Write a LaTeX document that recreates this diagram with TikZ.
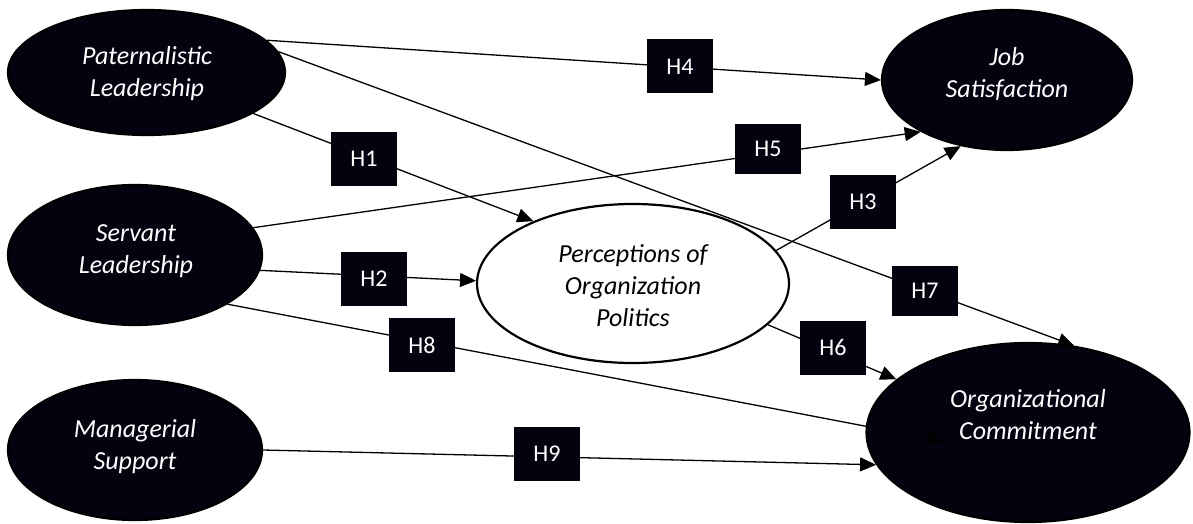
\documentclass[tikz,border=0pt]{standalone}
\usepackage{fontspec}
\setmainfont{Carlito}
\usetikzlibrary{arrows.meta,shapes.geometric}
\definecolor{navy}{RGB}{3,3,16}
\tikzset{
  ellb/.style={ellipse, draw=black, line width=2.2pt, fill=navy, inner sep=0pt},
  ellw/.style={ellipse, draw=black, line width=2.2pt, fill=white, inner sep=0pt},
  wtxt/.style={text=white, font=\fontsize{26}{32}\selectfont\itshape, align=center, inner sep=0pt},
  btxt/.style={text=black, font=\fontsize{26}{32}\selectfont\itshape, align=center, inner sep=0pt},
  hbox/.style={fill=navy, text=white, font=\fontsize{24}{28}\selectfont, minimum width=66pt, minimum height=54pt, inner sep=0pt},
  conn/.style={line width=1.3pt, -{Triangle[length=16pt,width=14pt]}},
}
\begin{document}
\begin{tikzpicture}[x=1pt,y=-1pt]
\useasboundingbox[fill=white] (0,0) rectangle (1193,524);
% ellipses
\node[ellb, minimum width=277pt, minimum height=125pt] (pat) at (146.5,72.5) {};
\node[ellb, minimum width=254pt, minimum height=140pt] (serv) at (135,255) {};
\node[ellb, minimum width=254pt, minimum height=140pt] (mgr) at (135,450) {};
\node[ellb, minimum width=250pt, minimum height=140pt] (job) at (1007,80) {};
\node[ellw, minimum width=312pt, minimum height=159pt] (perc) at (633,283.5) {};
\node[ellb, minimum width=323pt, minimum height=179pt] (oc) at (1028,432.5) {};
% texts
\node[wtxt] (pat-t) at (147,74) {Paternalistic\\Leadership};
\node[wtxt] (serv-t) at (136,251) {Servant\\Leadership};
\node[wtxt] (mgr-t) at (135,446.5) {Managerial\\Support};
\node[wtxt] (job-t) at (1007,74) {Job\\Satisfaction};
\node[btxt] (perc-t) at (633,285.5) {Perceptions of\\Organization\\Politics};
\node[wtxt] (oc-t) at (1028,415) {Organizational\\Commitment};
% connectors
\coordinate (h8end) at (943,441);
\draw[conn] (pat.15) -- (job.180);
\draw[conn] (pat.9) -- (oc.62);
\draw[conn] (pat.339) -- (perc.148);
\draw[conn] (serv.13) -- (job.211);
\draw[conn] (serv.353) -- (perc.179);
\draw[conn] (serv.332) -- (h8end);
\draw[conn] (mgr.0) -- (oc.192);
\draw[conn] (perc.13) -- (job.235);
\draw[conn] (perc.343) -- (oc.158);
% hypothesis boxes
\node[hbox] (h4) at (680,66.5) {H4};
\node[hbox] (h1) at (364,158.5) {H1};
\node[hbox, minimum height=50pt] (h5) at (768,149) {H5};
\node[hbox] (h3) at (863,202) {H3};
\node[hbox] (h2) at (374,278.5) {H2};
\node[hbox] (h8) at (422,345) {H8};
\node[hbox, minimum height=50pt] (h7) at (925,291) {H7};
\node[hbox] (h6) at (833,347.5) {H6};
\node[hbox] (h9) at (547,453.5) {H9};
\end{tikzpicture}
\end{document}
